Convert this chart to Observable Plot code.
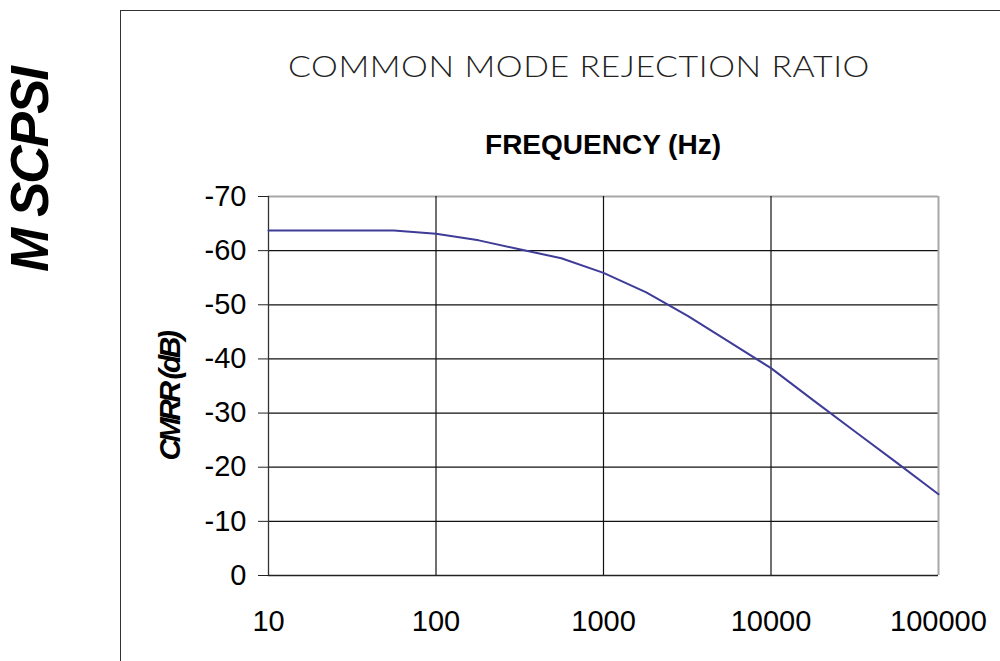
<!DOCTYPE html>
<html>
<head>
<meta charset="utf-8">
<script src="https://cdn.jsdelivr.net/npm/d3@7"></script>
<script src="https://cdn.jsdelivr.net/npm/@observablehq/plot@0.6"></script>
<style>
  html, body { margin: 0; padding: 0; background: #fff; }
  #wrap { position: relative; width: 1000px; height: 661px; overflow: hidden; background: #fff; }
  #frame { position: absolute; left: 120px; top: 10px; width: 900px; height: 700px;
           border-left: 1.3px solid #333; border-top: 1.3px solid #333; z-index: 3; pointer-events: none; }
  #side { position: absolute; left: 29px; top: 170px; transform: translate(-50%, -50%) rotate(-90deg);
          font: italic bold 53px "Liberation Sans", Arial, sans-serif; letter-spacing: -2px; white-space: nowrap; color: #000; z-index: 4; }
  #header { position: absolute; left: 0; top: 0; width: 1000px; height: 180px; }
  #title { position: absolute; left: 579px; top: 76px; transform-origin: 50% 50%;
           font: 300 29px "Lato", "Open Sans", "DejaVu Sans", sans-serif; color: #222; white-space: nowrap; letter-spacing: 0.5px; }
  #subtitle { position: absolute; left: 603px; top: 155px; transform: translate(-50%, -82%);
           font: bold 28px "Liberation Sans", Arial, sans-serif; color: #000; white-space: nowrap; }
  #chart { position: absolute; left: 0; top: 180px; }
  #ylab { position: absolute; left: 170px; top: 397px; transform: translate(-50%, -50%) rotate(-90deg);
          font: italic bold 30px "Liberation Sans", Arial, sans-serif; letter-spacing: -3.5px; white-space: nowrap; color: #000; z-index: 4; }
</style>
</head>
<body>
<div id="wrap">
  <div id="header">
    <div id="title">COMMON MODE REJECTION RATIO</div>
    <div id="subtitle">FREQUENCY (Hz)</div>
  </div>
  <div id="chart"></div>
  <div id="ylab">CMRR (dB)</div>
  <div id="side">M SCPSI</div>
  <div id="frame"></div>
</div>
<script>
// Data
const frequencies = [10, 56, 100, 180, 320, 560, 1000, 1800, 3200, 5600, 10000, 18000, 32000, 56000, 100000];
const cmrrValues  = [-63.7, -63.7, -63.1, -61.9, -60.2, -58.6, -55.9, -52.3, -47.9, -43.2, -38.3, -32.3, -26.5, -20.9, -15.0];
const xTicks = [10, 100, 1000, 10000, 100000];
const yTicks = [-70, -60, -50, -40, -30, -20, -10, 0];

const data = frequencies.map((f, i) => ({f, v: cmrrValues[i]}));

const chart = Plot.plot({
  width: 1000,
  height: 481,
  marginLeft: 268,
  marginRight: 62,
  marginTop: 16,
  marginBottom: 86,
  style: {fontFamily: "'Liberation Sans', Arial, sans-serif", fontSize: "29px", color: "#000", background: "transparent"},
  x: {type: "log", domain: [10, 100000]},
  y: {domain: [0, -70]},
  marks: [
    Plot.ruleY(yTicks.filter(d => d !== -70), {stroke: "#111", strokeWidth: 1.2}),
    Plot.ruleY([-70], {stroke: "#a8a8a8", strokeWidth: 2}),
    Plot.ruleX(xTicks.slice(1, -1), {stroke: "#111", strokeWidth: 1.2}),
    Plot.ruleX([100000], {stroke: "#a8a8a8", strokeWidth: 2}),
    Plot.ruleX([10], {stroke: "#333", strokeWidth: 1.3}),
    Plot.ruleY([0], {stroke: "#222", strokeWidth: 1.5}),
    Plot.axisY({ticks: yTicks, tickSize: 10, tickPadding: 12, tickFormat: d => String(d), label: null, stroke: "#222"}),
    Plot.axisX({ticks: xTicks, tickSize: 0, tickPadding: 35, tickFormat: d => String(d), label: null}),
    Plot.line(data, {x: "f", y: "v", stroke: "#3f3c98", strokeWidth: 2})
  ]
});
document.getElementById("chart").appendChild(chart);

// fit title width to reference (~582px) by horizontal scaling
const t = document.getElementById("title");
const r = t.getBoundingClientRect();
const sx = 582 / r.width;
t.style.transform = `translate(-50%, -80%) scaleX(${sx})`;
</script>
</body>
</html>
